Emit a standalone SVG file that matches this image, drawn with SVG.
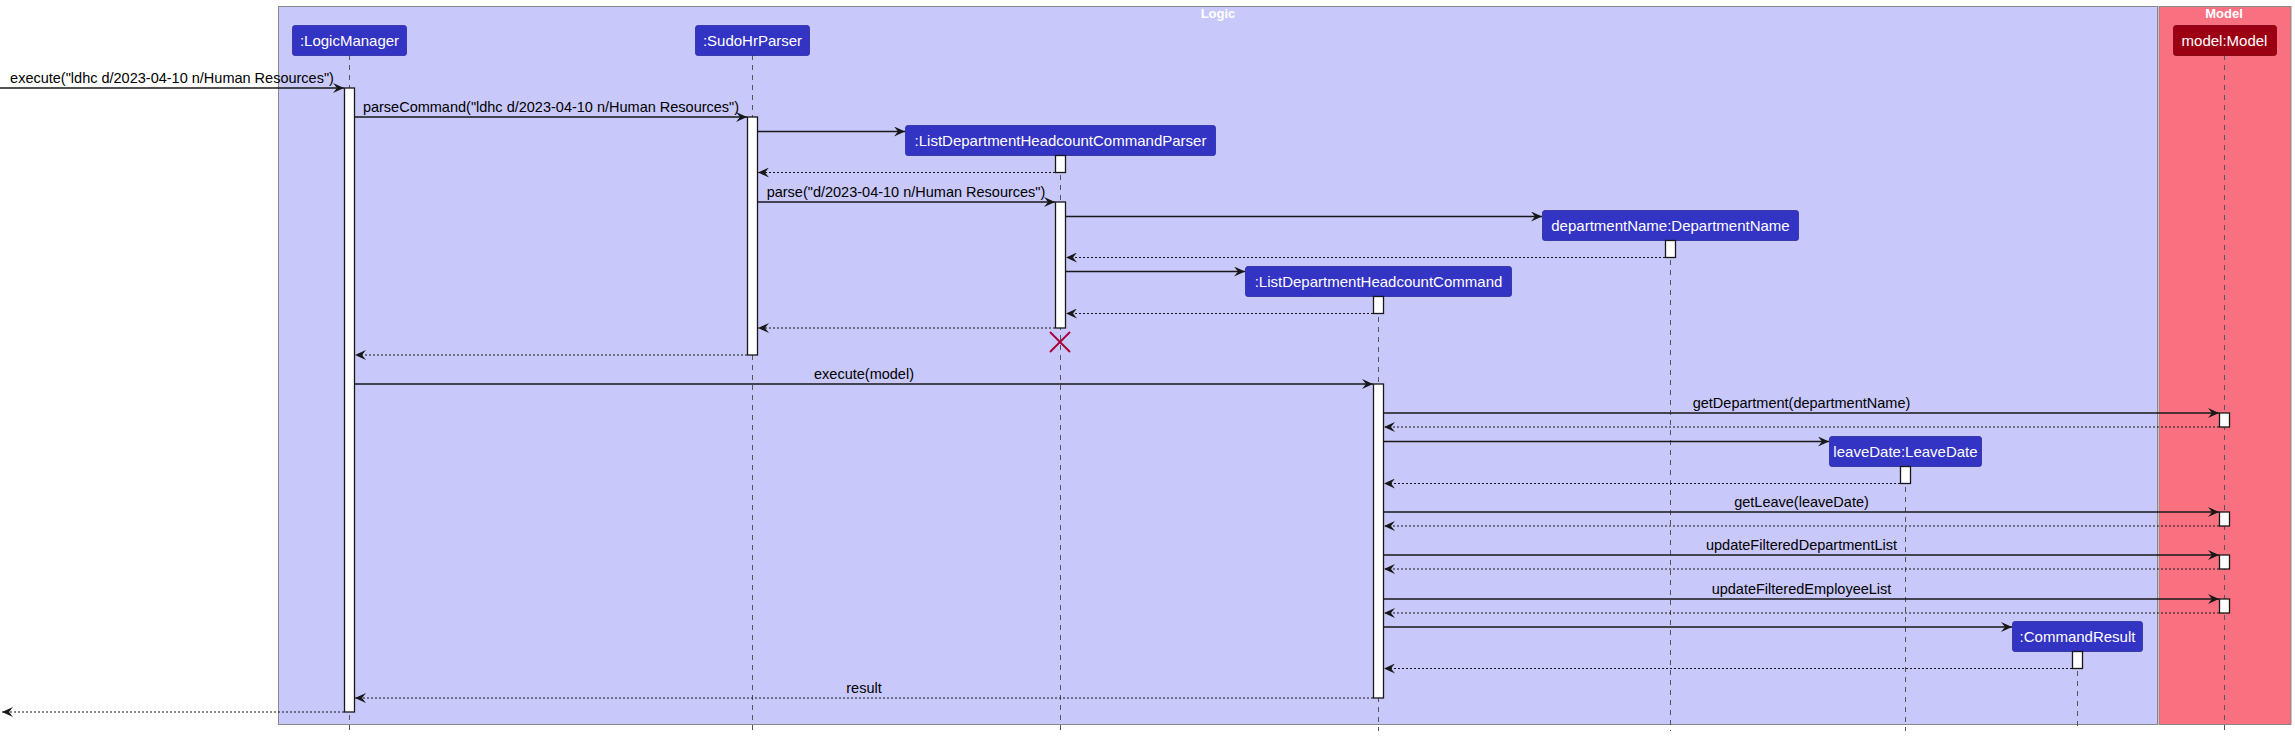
<svg xmlns="http://www.w3.org/2000/svg" width="2295" height="736" viewBox="0 0 2295 736">
<style>
.msg{font-family:"Liberation Sans",Arial,sans-serif;font-size:14.5px;fill:#000;text-anchor:middle}
.ptxt{font-family:"Liberation Sans",Arial,sans-serif;font-size:15px;fill:#fff;text-anchor:middle}
.ttl{font-family:"Liberation Sans",Arial,sans-serif;font-size:13px;font-weight:bold;fill:#fff;text-anchor:middle}
.life{stroke:#555;stroke-width:1;stroke-dasharray:5,5;fill:none}
.call{stroke:#181818;stroke-width:1.3;fill:none;marker-end:url(#ah)}
.ret{stroke:#181818;stroke-width:1.2;stroke-dasharray:2,2;fill:none;marker-end:url(#ah)}
.act{fill:#fff;stroke:#181818;stroke-width:1.3}
.lp{fill:#3333C4;stroke:#2a2aa0;stroke-width:0.8}
.mp{fill:#9D0012;stroke:#7a000e;stroke-width:0.8}
</style>
<defs>
<marker id="ah" viewBox="0 0 11 10" refX="11" refY="5" markerWidth="11" markerHeight="10" markerUnits="userSpaceOnUse" orient="auto">
<path d="M0,0 L11,5 L0,10 L4,5 Z" fill="#181818"/>
</marker>
</defs>
<g id="frame-logic">
<rect x="278.5" y="6.5" width="1879" height="718" fill="#C8C8FA" stroke="#888" stroke-width="1"/>
<text class="ttl" x="1218" y="18">Logic</text>
</g>
<g id="frame-model">
<rect x="2159" y="6.5" width="132" height="718" fill="#F97181" stroke="#888" stroke-width="1"/>
<text class="ttl" x="2224" y="18">Model</text>
</g>
<g id="lifelines">
<line class="life" x1="349.5" y1="55" x2="349.5" y2="731"/>
<line class="life" x1="752.5" y1="55" x2="752.5" y2="731"/>
<line class="life" x1="1060.5" y1="155" x2="1060.5" y2="731"/>
<line class="life" x1="1670.5" y1="240" x2="1670.5" y2="731"/>
<line class="life" x1="1378.5" y1="297" x2="1378.5" y2="731"/>
<line class="life" x1="1905.5" y1="467" x2="1905.5" y2="731"/>
<line class="life" x1="2077.5" y1="651" x2="2077.5" y2="731"/>
<line class="life" x1="2224.5" y1="55" x2="2224.5" y2="731"/>
</g>
<g id="logicManager">
<rect class="lp" x="292.5" y="25.5" width="114" height="30" rx="2.5"/>
<text class="ptxt" x="349.5" y="46">:LogicManager</text>
<rect class="act" x="344.5" y="88" width="10" height="624"/>
</g>
<g id="sudoHrParser">
<rect class="lp" x="695.5" y="25.5" width="114" height="30" rx="2.5"/>
<text class="ptxt" x="752.5" y="46">:SudoHrParser</text>
<rect class="act" x="747.5" y="117" width="10" height="238"/>
</g>
<g id="listDepartmentHeadcountCommandParser">
<rect class="lp" x="905.5" y="125.5" width="310" height="30" rx="2.5"/>
<text class="ptxt" x="1060.5" y="146">:ListDepartmentHeadcountCommandParser</text>
<rect class="act" x="1055.5" y="155.5" width="10" height="17"/>
<rect class="act" x="1055.5" y="202" width="10" height="126"/>
<path d="M1050,332 L1070,352 M1050,352 L1070,332" stroke="#A80036" stroke-width="1.8" fill="none"/>
</g>
<g id="departmentName">
<rect class="lp" x="1542.5" y="210.5" width="256" height="30" rx="2.5"/>
<text class="ptxt" x="1670.5" y="231">departmentName:DepartmentName</text>
<rect class="act" x="1665.5" y="240.5" width="10" height="17"/>
</g>
<g id="listDepartmentHeadcountCommand">
<rect class="lp" x="1245.5" y="266.5" width="266" height="30" rx="2.5"/>
<text class="ptxt" x="1378.5" y="287">:ListDepartmentHeadcountCommand</text>
<rect class="act" x="1373.5" y="296.5" width="10" height="17"/>
<rect class="act" x="1373.5" y="384" width="10" height="314"/>
</g>
<g id="leaveDate">
<rect class="lp" x="1829.5" y="436.5" width="152" height="30" rx="2.5"/>
<text class="ptxt" x="1905.5" y="457">leaveDate:LeaveDate</text>
<rect class="act" x="1900.5" y="466.5" width="10" height="17"/>
</g>
<g id="commandResult">
<rect class="lp" x="2012.5" y="621.5" width="130" height="30" rx="2.5"/>
<text class="ptxt" x="2077.5" y="642">:CommandResult</text>
<rect class="act" x="2072.5" y="651.5" width="10" height="17"/>
</g>
<g id="model">
<rect class="mp" x="2173.5" y="25.5" width="103" height="30" rx="2.5"/>
<text class="ptxt" x="2224.5" y="46">model:Model</text>
<rect class="act" x="2219.5" y="413" width="10" height="14"/>
<rect class="act" x="2219.5" y="512" width="10" height="14"/>
<rect class="act" x="2219.5" y="555" width="10" height="14"/>
<rect class="act" x="2219.5" y="599" width="10" height="14"/>
</g>
<g id="connectors">
<line class="call" x1="0" y1="88" x2="344" y2="88"/>
<text class="msg" x="172" y="83">execute("ldhc d/2023-04-10 n/Human Resources")</text>
<line class="call" x1="355" y1="117" x2="747" y2="117"/>
<text class="msg" x="551" y="112">parseCommand("ldhc d/2023-04-10 n/Human Resources")</text>
<line class="call" x1="758" y1="131.5" x2="905" y2="131.5"/>
<line class="ret" x1="1055" y1="172.5" x2="758" y2="172.5"/>
<line class="call" x1="758" y1="202" x2="1055" y2="202"/>
<text class="msg" x="906" y="197">parse("d/2023-04-10 n/Human Resources")</text>
<line class="call" x1="1066" y1="216.5" x2="1542" y2="216.5"/>
<line class="ret" x1="1665" y1="257.5" x2="1066" y2="257.5"/>
<line class="call" x1="1066" y1="271.5" x2="1245" y2="271.5"/>
<line class="ret" x1="1373" y1="313.5" x2="1066" y2="313.5"/>
<line class="ret" x1="1055" y1="328" x2="758" y2="328"/>
<line class="ret" x1="747" y1="355" x2="355" y2="355"/>
<line class="call" x1="355" y1="384" x2="1373" y2="384"/>
<text class="msg" x="864" y="379">execute(model)</text>
<line class="call" x1="1384" y1="413" x2="2219" y2="413"/>
<text class="msg" x="1801.5" y="408">getDepartment(departmentName)</text>
<line class="ret" x1="2219" y1="427" x2="1384" y2="427"/>
<line class="call" x1="1384" y1="441.5" x2="1829" y2="441.5"/>
<line class="ret" x1="1900" y1="483.5" x2="1384" y2="483.5"/>
<line class="call" x1="1384" y1="512" x2="2219" y2="512"/>
<text class="msg" x="1801.5" y="507">getLeave(leaveDate)</text>
<line class="ret" x1="2219" y1="526" x2="1384" y2="526"/>
<line class="call" x1="1384" y1="555" x2="2219" y2="555"/>
<text class="msg" x="1801.5" y="550">updateFilteredDepartmentList</text>
<line class="ret" x1="2219" y1="569" x2="1384" y2="569"/>
<line class="call" x1="1384" y1="599" x2="2219" y2="599"/>
<text class="msg" x="1801.5" y="594">updateFilteredEmployeeList</text>
<line class="ret" x1="2219" y1="613" x2="1384" y2="613"/>
<line class="call" x1="1384" y1="627" x2="2012" y2="627"/>
<line class="ret" x1="2072" y1="668.5" x2="1384" y2="668.5"/>
<line class="ret" x1="1373" y1="698" x2="355" y2="698"/>
<text class="msg" x="864" y="693">result</text>
<line class="ret" x1="344" y1="712" x2="2" y2="712"/>
</g>
</svg>
